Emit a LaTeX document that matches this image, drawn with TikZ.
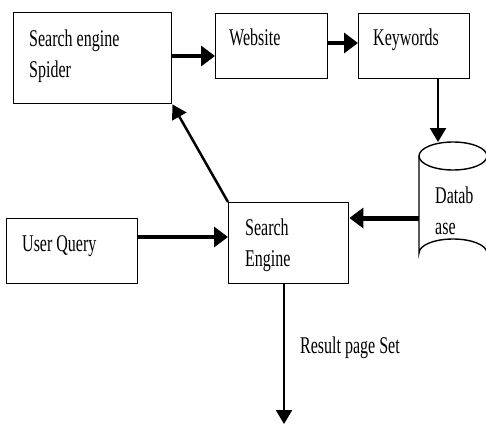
\documentclass[tikz,border=0pt]{standalone}
\usepackage{fontspec}
\setmainfont{Liberation Serif}
\usetikzlibrary{arrows.meta,positioning}

\tikzset{
  box/.style={draw, line width=1.4pt, anchor=north west, inner sep=0pt},
  txt/.style={font=\fontsize{16}{20.5}\selectfont, yscale=1.5, anchor=north west, align=left, inner sep=0pt},
  flow/.style={line width=2.5pt, -{Triangle[length=14pt,width=16pt]}},
  bigflow/.style={line width=4pt, -{Triangle[length=14pt,width=20pt]}},
}

\begin{document}
\begin{tikzpicture}[x=1pt,y=-1pt]
  \useasboundingbox (0,0) rectangle (486,425);

  % Boxes
  \node[box, minimum width=158pt, minimum height=91pt] (spider) at (13,12) {};
  \node[box, minimum width=112pt, minimum height=65pt] (website) at (215,13) {};
  \node[box, minimum width=111pt, minimum height=65pt] (keywords) at (358,13) {};
  \node[box, minimum width=131pt, minimum height=65pt] (query) at (6,218) {};
  \node[box, minimum width=120pt, minimum height=81pt] (engine) at (228,202) {};

  % Database drum
  \draw[line width=1.4pt] (419,156) -- (419,253) arc (180:360:34 and 14) -- (487,156);
  \draw[line width=1.4pt] (453,156) ellipse (34 and 14);
  \coordinate (dbtop) at (438,142);
  \coordinate (dbleft) at (419,218);
  \coordinate (result) at (284,424);

  % Texts
  \node[txt] (t_spider) at (29,30) {Search engine\\Spider};
  \node[txt] (t_website) at (229,29) {Website};
  \node[txt] (t_keywords) at (373,29) {Keywords};
  \node[txt] (t_query) at (22,235) {User Query};
  \node[txt] (t_engine) at (245,219) {Search\\Engine};
  \node[txt] (t_db) at (435,187) {Datab\\ase};
  \node[txt] (t_result) at (300,337) {Result page Set};

  % Arrows
  \draw[bigflow] (spider.east |- 0,56) -- (website.west |- 0,56);
  \draw[bigflow] (website.east |- 0,43) -- (keywords.west |- 0,43);
  \draw[flow] (keywords.south -| 438,0) -- (dbtop);
  \draw[bigflow, line width=5pt] (dbleft) -- (engine.east |- dbleft);
  \draw[bigflow] (query.east |- 0,237) -- (engine.west |- 0,237);
  \draw[flow] (engine.north west) -- (spider.south east);
  \draw[flow] (engine.south -| 284,0) -- (result);

\end{tikzpicture}
\end{document}
